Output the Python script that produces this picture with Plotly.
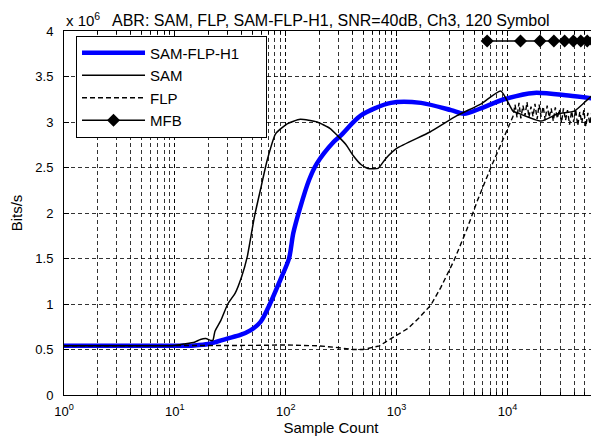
import plotly.graph_objects as go

# ---------------- data (values in units of 1e6 bits/s) ----------------
h1_x = [1, 10, 15, 20, 29.6, 39, 48, 59, 72, 89, 107, 117, 135, 162, 190, 270, 313,
        474, 887, 1660, 3100, 4060, 5750, 9330, 17400, 35500, 65536]
h1_y = [0.54, 0.54, 0.545, 0.56, 0.62, 0.66, 0.71, 0.80, 1.0, 1.26, 1.50, 1.78, 2.06,
        2.36, 2.54, 2.78, 2.85, 3.07, 3.21, 3.21, 3.13, 3.09, 3.15, 3.25, 3.32, 3.29, 3.25]

sam_x = [1, 5, 10, 12, 15, 17, 19, 21, 22, 23, 26, 30, 35, 40, 45, 52, 59, 68, 81, 103,
         135, 192, 250, 293, 350, 407, 480, 550, 680, 800, 1000, 2000, 3500, 5800, 8700,
         11200, 12300, 20000, 28500, 40000, 50000, 65536]
sam_y = [0.54, 0.54, 0.545, 0.56, 0.58, 0.61, 0.62, 0.60, 0.60, 0.70, 0.82, 1.0, 1.12,
         1.3, 1.52, 1.95, 2.25, 2.58, 2.87, 2.98, 3.03, 3.0, 2.93, 2.85, 2.75, 2.63, 2.53,
         2.49, 2.49, 2.60, 2.71, 2.89, 3.07, 3.20, 3.34, 3.12, 3.10, 3.01, 3.09, 3.12,
         3.22, 3.35]

flp_x = [1, 10, 50, 100, 200, 300, 400, 500, 600, 700, 890, 1260, 1600, 2040, 2500, 3300,
         4270, 5370, 7080, 9330,
         11200, 11700, 12200, 12700, 13200, 13800, 14400, 15000, 15600, 16300, 17000,
         17700, 18500, 19300, 20100, 21000, 21900, 22800, 23800, 24800, 25900, 27000,
         28200, 29400, 30700, 32000, 33400, 34800, 36300, 37900, 39500, 41200, 43000,
         44900, 46800, 48800, 50900, 53100, 55400, 57800, 60300, 62900, 65536]
flp_y = [0.54, 0.54, 0.545, 0.55, 0.54, 0.52, 0.50, 0.50, 0.52, 0.54, 0.62, 0.73, 0.85,
         0.99, 1.18, 1.48, 1.81, 2.14, 2.50, 2.83,
         3.06, 3.19, 3.05, 3.21, 3.04, 3.18, 3.07, 3.22, 3.05, 3.17, 3.06,
         3.20, 3.03, 3.19, 3.06, 3.17, 3.02, 3.18, 3.05, 3.15, 3.01, 3.16,
         3.04, 3.14, 2.99, 3.15, 3.02, 3.13, 2.97, 3.12, 3.00, 3.14, 2.96,
         3.11, 2.99, 3.13, 2.95, 3.10, 2.98, 3.12, 2.94, 3.09, 3.00]

mfb_x = [6554, 13107, 19661, 26214, 32768, 39322, 45875, 52429, 58982, 65536]
mfb_y = [3.89, 3.89, 3.89, 3.89, 3.89, 3.89, 3.89, 3.89, 3.89, 3.89]

x_tickvals = [1, 10, 100, 1000, 10000]
x_ticktext = ["10<sup>0</sup>", "10<sup>1</sup>", "10<sup>2</sup>", "10<sup>3</sup>", "10<sup>4</sup>"]
y_tickvals = [0, 0.5, 1, 1.5, 2, 2.5, 3, 3.5, 4]
y_ticktext = ["0", "0.5", "1", "1.5", "2", "2.5", "3", "3.5", "4"]

title_text = "ABR: SAM, FLP, SAM-FLP-H1, SNR=40dB, Ch3, 120 Symbol"
names = ["SAM-FLP-H1", "SAM", "FLP", "MFB"]
PAD = "\u00a0" * 5

# ---------------- figure ----------------
fig = go.Figure()
fig.add_trace(go.Scatter(x=h1_x, y=h1_y, mode="lines", name=names[0] + PAD,
                         line=dict(color="#0000ff", width=4.5, shape="spline", smoothing=0.8)))
fig.add_trace(go.Scatter(x=sam_x, y=sam_y, mode="lines", name=names[1],
                         line=dict(color="black", width=1.5, shape="spline", smoothing=0.5)))
fig.add_trace(go.Scatter(x=flp_x, y=flp_y, mode="lines", name=names[2],
                         line=dict(color="black", width=1.4, dash="5px,3px")))
fig.add_trace(go.Scatter(x=mfb_x, y=mfb_y, mode="lines+markers", name=names[3],
                         line=dict(color="black", width=1.5),
                         marker=dict(symbol="diamond", size=10, color="black")))

FONT = "Liberation Sans, Arial, sans-serif"
grid_col = "rgba(0,0,0,0.8)"

# page body adds an 8px offset, so the figure is 8px smaller and shifted
fig.update_layout(
    width=591, height=428,
    margin=dict(l=56, r=1, t=23, b=41),
    paper_bgcolor="white", plot_bgcolor="white",
    font=dict(family=FONT, size=13, color="black"),
    showlegend=True,
    legend=dict(x=0.0225, y=0.9875, xanchor="left", yanchor="top",
                bgcolor="white", bordercolor="black", borderwidth=1,
                font=dict(size=15), itemwidth=63, tracegroupgap=0),
)

fig.update_xaxes(
    type="log", range=[0, 4.8165],
    tickvals=x_tickvals, ticktext=x_ticktext, ticklabelstandoff=4,
    showline=True, linecolor="black", linewidth=1, mirror="allticks",
    ticks="inside", ticklen=5, tickcolor="black",
    showgrid=True, gridcolor=grid_col, gridwidth=1, griddash="4px,3px",
    minor=dict(dtick="D1", showgrid=True, gridcolor=grid_col, gridwidth=1,
               griddash="4px,3px", ticks="inside", ticklen=3, tickcolor="black"),
    zeroline=False,
    title=dict(text="Sample Count", standoff=3, font=dict(size=15)),
)
fig.update_yaxes(
    range=[0, 4], tickvals=y_tickvals, ticktext=y_ticktext, ticklabelstandoff=7,
    showline=True, linecolor="black", linewidth=1, mirror="allticks",
    ticks="inside", ticklen=5, tickcolor="black",
    showgrid=True, gridcolor=grid_col, gridwidth=1, griddash="4px,3px",
    zeroline=False,
    title=dict(text="Bits/s", standoff=9, font=dict(size=15)),
)

fig.add_annotation(x=0.5, y=1, xref="paper", yref="paper", xanchor="center",
                   yanchor="bottom", yshift=0, text=title_text, showarrow=False,
                   font=dict(size=16))
fig.add_annotation(x=0, y=1, xref="paper", yref="paper", xanchor="left",
                   yanchor="bottom", yshift=0, text="x 10<sup>6</sup>", showarrow=False,
                   font=dict(size=15))

fig.write_html("out.html")
